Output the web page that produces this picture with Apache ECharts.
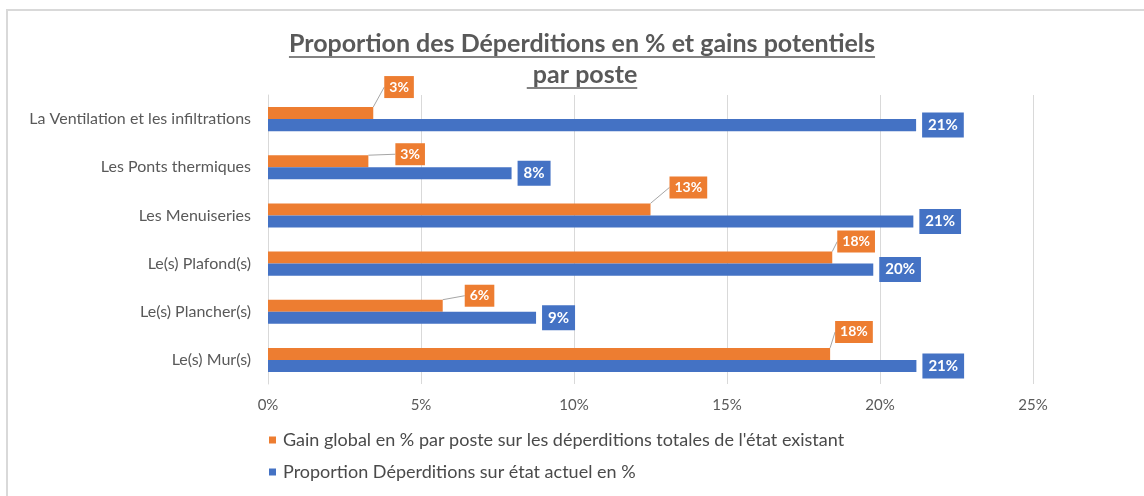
<!DOCTYPE html>
<html>
<head>
<meta charset="utf-8">
<script src="https://cdn.jsdelivr.net/npm/echarts@6/dist/echarts.min.js"></script>
<style>
  html, body { margin: 0; padding: 0; background: #ffffff; }
  #chart { width: 1144px; height: 496px; }
</style>
</head>
<body>
<div id="chart"></div>
<script>
// Heat-loss breakdown per building element (percent)
const categories = [
  'La Ventilation et les infiltrations',
  'Les Ponts thermiques',
  'Les Menuiseries',
  'Le(s) Plafond(s)',
  'Le(s) Plancher(s)',
  'Le(s) Mur(s)'
];
const gainValues = [3.44, 3.28, 12.5, 18.44, 5.71, 18.37];
const proportionValues = [21.18, 7.96, 21.09, 19.78, 8.76, 21.19];
const xTickValues = [0, 5, 10, 15, 20, 25];
const seriesNames = [
  "Gain global en % par poste sur les déperditions totales de l'état existant",
  'Proportion Déperditions sur état actuel en %'
];
const titleLines = ['Proportion des Déperditions en % et gains potentiels', ' par poste'];

// Where each orange callout sits, relative to its default spot right of the bar
const calloutShift = [[6, -26], [22, -7], [14, -22], [0, -16], [17, -10], [0, -22]];

const FONT = 'Lato, "Open Sans", sans-serif';
const GREY = '#595959';
const ORANGE = '#ED7D31';
const BLUE = '#4472C4';

function measure(str, font) {
  const ctx = document.createElement('canvas').getContext('2d');
  ctx.font = font;
  return ctx.measureText(str).width;
}

// Title text plus a drawn underline beneath each line
const titleFontSize = 25;
const titleCss = 'bold ' + titleFontSize + 'px ' + FONT;
const titleCenterX = 582;
const titleRowsY = [44, 75];
const titleGraphics = [];
titleLines.forEach(function (line, i) {
  const w = measure(line, titleCss);
  titleGraphics.push({
    type: 'text',
    x: titleCenterX,
    y: titleRowsY[i],
    style: {
      text: line,
      font: titleCss,
      fill: GREY,
      align: 'center',
      verticalAlign: 'middle'
    }
  });
  titleGraphics.push({
    type: 'line',
    shape: {
      x1: titleCenterX - w / 2, y1: titleRowsY[i] + 13,
      x2: titleCenterX + w / 2, y2: titleRowsY[i] + 13
    },
    style: { stroke: GREY, lineWidth: 1.5 }
  });
});

const pct = function (p) { return Math.round(p.value) + '%'; };

const chart = echarts.init(document.getElementById('chart'), null, { renderer: 'canvas' });
chart.setOption({
  animation: false,
  backgroundColor: '#ffffff',
  textStyle: { fontFamily: FONT },
  graphic: [
    {
      type: 'rect',
      shape: { x: 7, y: 10, width: 1200, height: 600 },
      style: { fill: 'none', stroke: '#D9D9D9', lineWidth: 2 },
      silent: true
    }
  ].concat(titleGraphics),
  grid: { left: 268, right: 111, top: 95, bottom: 112 },
  legend: {
    orient: 'vertical',
    left: 264,
    top: 426,
    itemGap: 14,
    icon: 'rect',
    itemWidth: 7,
    itemHeight: 7,
    selectedMode: false,
    textStyle: { fontFamily: FONT, fontSize: 18, color: '#4a4a4a', padding: [0, 0, 0, 2] },
    data: seriesNames
  },
  xAxis: {
    type: 'value',
    min: xTickValues[0],
    max: xTickValues[xTickValues.length - 1],
    interval: xTickValues[1] - xTickValues[0],
    axisLine: { show: false },
    axisTick: { show: false },
    axisLabel: {
      formatter: function (v) { return v + '%'; },
      color: GREY,
      fontFamily: FONT,
      fontSize: 15,
      margin: 14
    },
    splitLine: { lineStyle: { color: '#D9D9D9', width: 1 } }
  },
  yAxis: {
    type: 'category',
    inverse: true,
    data: categories,
    axisTick: { show: false },
    axisLine: { lineStyle: { color: '#D9D9D9', width: 1 } },
    axisLabel: { color: GREY, fontFamily: FONT, fontSize: 16, margin: 17 }
  },
  series: [
    {
      name: seriesNames[0],
      type: 'bar',
      data: gainValues,
      barCategoryGap: '50%',
      barGap: '0%',
      itemStyle: { color: ORANGE },
      label: {
        show: true,
        position: 'right',
        distance: 5,
        formatter: pct,
        backgroundColor: ORANGE,
        color: '#ffffff',
        fontFamily: FONT,
        fontSize: 14,
        fontWeight: 'bold',
        padding: [4, 5, 4, 5]
      },
      labelLayout: function (p) {
        const s = calloutShift[p.dataIndex];
        return { dx: s[0], dy: s[1] };
      },
      labelLine: { show: true, lineStyle: { color: '#A6A6A6', width: 1 } }
    },
    {
      name: seriesNames[1],
      type: 'bar',
      data: proportionValues,
      barCategoryGap: '50%',
      barGap: '0%',
      itemStyle: { color: BLUE },
      label: {
        show: true,
        position: 'right',
        distance: 6,
        formatter: pct,
        backgroundColor: BLUE,
        color: '#ffffff',
        fontFamily: FONT,
        fontSize: 15,
        fontWeight: 'bold',
        padding: [5, 6, 5, 6]
      }
    }
  ]
});
</script>
</body>
</html>
